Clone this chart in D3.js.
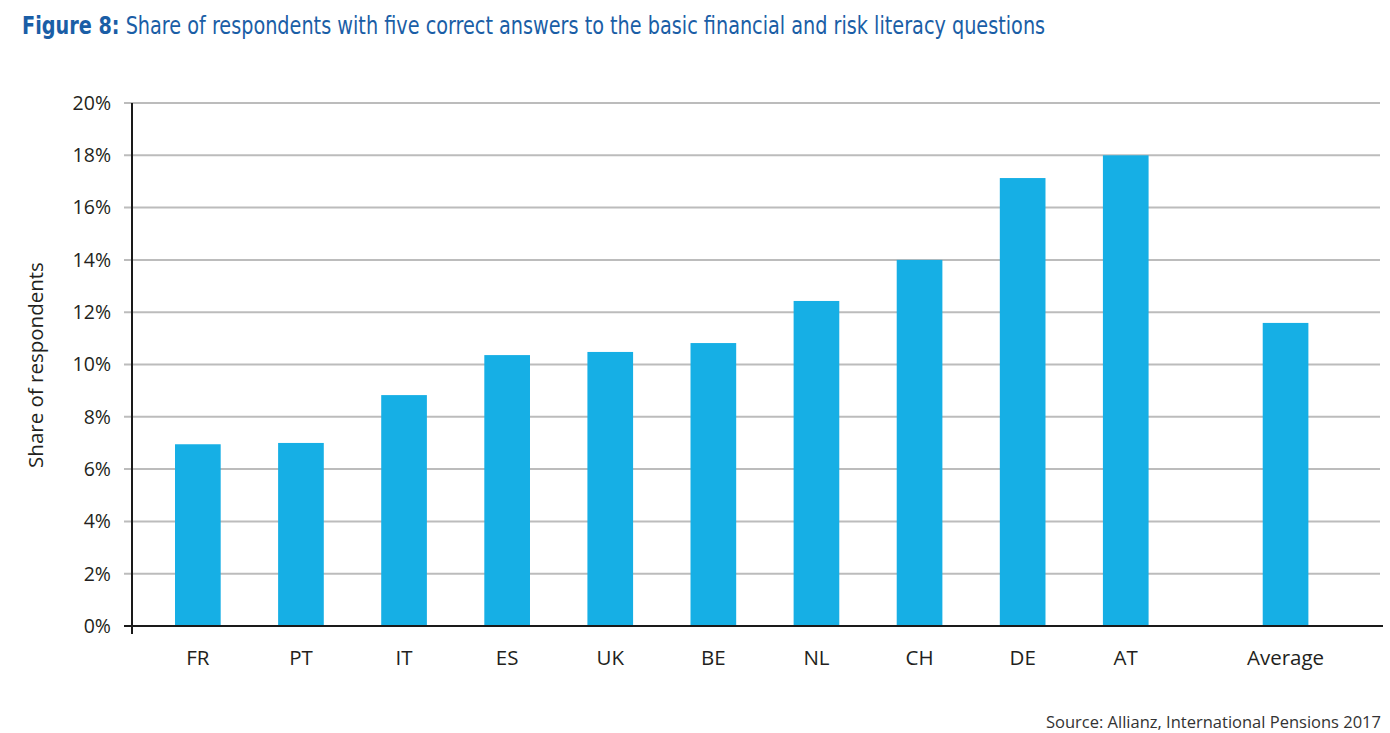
<!DOCTYPE html>
<meta charset="utf-8">
<style>
  body { margin: 0; background: #fff; }
  text { font-family: "Open Sans", "Noto Sans", sans-serif; }
</style>
<body>
<script src="https://cdn.jsdelivr.net/npm/d3@7"></script>
<script>

// chart data
var countries = ["FR", "PT", "IT", "ES", "UK", "BE", "NL", "CH", "DE", "AT", "Average"];
var shares = [6.95, 7.0, 8.83, 10.36, 10.48, 10.82, 12.43, 14.0, 17.13, 18.0, 11.59];
var yTicks = [0, 2, 4, 6, 8, 10, 12, 14, 16, 18, 20];

var data = countries.map(function(c, i) { return {name: c, value: shares[i]}; });

var width = 1390,
    height = 733;

var svg = d3.select("body").append("svg")
    .attr("width", width)
    .attr("height", height);

var plotLeft = 132, plotRight = 1381, plotTop = 103, plotBottom = 626;

var y = d3.scaleLinear()
    .domain([0, 20])
    .range([plotBottom, plotTop]);

// the average bar sits a little further out than the country bars
var x = d3.scaleBand()
    .domain(countries)
    .range([146.3, 146.3 + 103.1 * countries.length])
    .paddingInner(0.557)
    .paddingOuter(0.2785);
var gapAfter = 0.55 * x.step();
function xPos(d) { return x(d) + (d === "Average" ? gapAfter : 0); }

// title (condensed look: squeeze horizontally to the original width)
var title = svg.append("text")
    .attr("x", 0)
    .attr("y", 0)
    .attr("fill", "#1a5ea6")
    .style("font-family", "'Liberation Sans Narrow', 'DejaVu Sans Condensed', 'DejaVu Sans', sans-serif")
    .style("font-size", "24px");
title.append("tspan").attr("font-weight", "bold").text("Figure 8:");
title.append("tspan").text(" Share of respondents with five correct answers to the basic financial and risk literacy questions");
var tw = title.node().getComputedTextLength();
title.attr("transform", "translate(22,34) scale(" + (1024 / tw) + ",1)");

// gridlines
svg.append("g")
    .attr("class", "grid")
  .selectAll("line")
  .data(yTicks.filter(function(d) { return d > 0; }))
  .enter().append("line")
    .attr("x1", 124)
    .attr("x2", plotRight - 1)
    .attr("y1", function(d) { return y(d); })
    .attr("y2", function(d) { return y(d); })
    .attr("stroke", "#bcbcbc")
    .attr("stroke-width", 2);

// bars
svg.append("g")
    .attr("class", "bars")
  .selectAll("rect")
  .data(data)
  .enter().append("rect")
    .attr("x", function(d) { return xPos(d.name); })
    .attr("y", function(d) { return y(d.value); })
    .attr("width", x.bandwidth())
    .attr("height", function(d) { return y(0) - y(d.value); })
    .attr("fill", "#16afe5");

// axis lines
svg.append("line")
    .attr("x1", plotLeft).attr("x2", plotLeft)
    .attr("y1", plotTop).attr("y2", plotBottom + 8)
    .attr("stroke", "#1a1a1a").attr("stroke-width", 2);
svg.append("line")
    .attr("x1", 124).attr("x2", plotRight + 2)
    .attr("y1", y(0)).attr("y2", y(0))
    .attr("stroke", "#1a1a1a").attr("stroke-width", 2);

// y tick labels
svg.append("g")
  .selectAll("text")
  .data(yTicks)
  .enter().append("text")
    .attr("x", 111)
    .attr("y", function(d) { return y(d); })
    .attr("dy", "0.35em")
    .attr("text-anchor", "end")
    .attr("fill", "#231f20")
    .style("font-size", "19.5px")
    .text(function(d) { return d + "%"; });

// x labels
svg.append("g")
  .selectAll("text")
  .data(countries)
  .enter().append("text")
    .attr("x", function(d) { return xPos(d) + x.bandwidth() / 2; })
    .attr("y", 665)
    .attr("text-anchor", "middle")
    .attr("fill", "#231f20")
    .style("font-size", "20.5px")
    .text(function(d) { return d; });

// y axis title
svg.append("text")
    .attr("transform", "translate(43,365) rotate(-90)")
    .attr("text-anchor", "middle")
    .attr("fill", "#231f20")
    .style("font-size", "20.5px")
    .text("Share of respondents");

// source
svg.append("text")
    .attr("x", 1381)
    .attr("y", 728)
    .attr("text-anchor", "end")
    .attr("fill", "#333")
    .style("font-size", "16.5px")
    .text("Source: Allianz, International Pensions 2017");

</script>
</body>
